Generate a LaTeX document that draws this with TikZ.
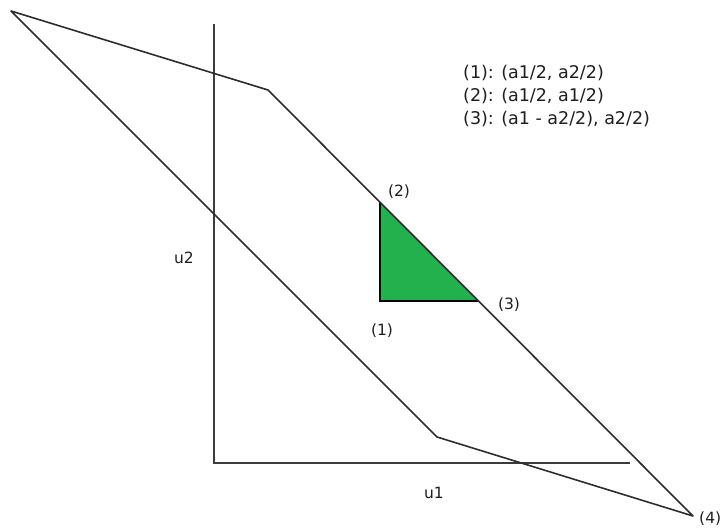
\documentclass[tikz,border=0pt]{standalone}
\usepackage{fontspec}
\setmainfont{DejaVu Sans}
\definecolor{paintgreen}{RGB}{34,177,76}
\definecolor{linegray}{RGB}{45,45,45}
\definecolor{axisgray}{RGB}{60,60,60}
\definecolor{txt}{RGB}{30,30,30}
\begin{document}
\begin{tikzpicture}[x=1pt,y=-1pt,
  poly/.style={draw=linegray,line width=1.6pt,line join=round},
  axis/.style={draw=axisgray,line width=2pt},
  lbl/.style={text=txt,font=\fontsize{15.5}{18}\selectfont,inner sep=0pt},
  legend/.style={text=txt,font=\fontsize{17.5}{23}\selectfont,inner sep=0pt,align=left,anchor=base west}]
\useasboundingbox (0,0) rectangle (723,532);
% axes
\coordinate (ytop) at (214,24);
\coordinate (origin) at (214,463);
\coordinate (xend) at (630,463);
\draw[axis] (ytop) -- (origin) -- (xend);
% triangle
\coordinate (p1) at (380,301);
\coordinate (p2) at (380,202);
\coordinate (p3) at (479,301);
\fill[paintgreen] (p1) -- (p2) -- (p3) -- cycle;
\draw[black,line width=1.6pt] (p2) -- (p1) -- (p3);
% polygon
\coordinate (A) at (11,11);
\coordinate (B) at (268,90);
\coordinate (D) at (693,516);
\coordinate (C) at (437,437);
\draw[poly] (A) -- (B) -- (D) -- (C) -- cycle;
% labels
\node[lbl] (l2) at (399,192) {(2)};
\node[lbl] (l3) at (509,305) {(3)};
\node[lbl] (l1) at (382,331) {(1)};
\node[lbl] (lu2) at (184,258) {u2};
\node[lbl] (lu1) at (434,493) {u1};
\node[lbl,anchor=west] (l4) at (699,519) {(4)};
\node[legend] (leg1) at (463,79) {(1): (a1/2, a2/2)};
\node[legend] (leg2) at (463,102) {(2): (a1/2, a1/2)};
\node[legend] (leg3) at (463,125) {(3): (a1 - a2/2), a2/2)};
\end{tikzpicture}
\end{document}
